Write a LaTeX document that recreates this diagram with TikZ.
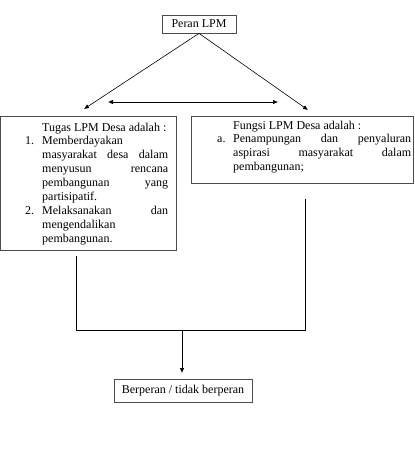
\documentclass[tikz,border=0pt]{standalone}
\usepackage{fontspec}
\setmainfont{Liberation Serif}
\usetikzlibrary{arrows.meta}
\tikzset{
  box/.style={draw=black!70, line width=0.7pt, inner sep=0pt},
  txt/.style={inner sep=0pt, anchor=base west, font=\fontsize{12}{13.9}\selectfont},
  conn/.style={draw=black, line width=0.6pt},
  arr/.style={conn, -{Latex[length=5pt,width=4.5pt]}},
}
\newcommand{\jline}[2]{\hbox to #1{#2}}
\begin{document}
\begin{tikzpicture}[x=1pt,y=-1pt]
\useasboundingbox (0,0) rectangle (415,451);
% boxes
\node[box, minimum width=74pt, minimum height=18pt, font=\fontsize{12}{14}\selectfont] (peran) at (199,24) {Peran LPM};
\draw[box] (0.5,116) rectangle (176,250);
\coordinate (tugasS) at (76,256);
\draw[box] (191,116) rectangle (413,183);
\coordinate (fungsiS) at (305,199);
\node[box, minimum width=138pt, minimum height=23pt, font=\fontsize{12}{14}\selectfont] (hasil) at (183,390.5) {Berperan / tidak berperan};
% text left
\node[txt] (tugas) at (25,131) {\begin{minipage}[t]{145pt}\setlength\baselineskip{13.9pt}\setlength\parskip{0pt}%
\hspace*{17pt}Tugas LPM Desa adalah :\par
\makebox[17pt][l]{1.}\jline{126pt}{Memberdayakan\hfil}\par
\hspace*{17pt}\jline{126pt}{masyarakat\hfil desa\hfil dalam}\par
\hspace*{17pt}\jline{126pt}{menyusun\hfil rencana}\par
\hspace*{17pt}\jline{126pt}{pembangunan\hfil yang}\par
\hspace*{17pt}\jline{126pt}{partisipatif.\hfil}\par
\makebox[17pt][l]{2.}\jline{126pt}{Melaksanakan\hfil dan}\par
\hspace*{17pt}\jline{126pt}{mengendalikan\hfil}\par
\hspace*{17pt}\jline{126pt}{pembangunan.\hfil}\par
\end{minipage}};
% text right
\node[txt] (fungsi) at (217,129) {\begin{minipage}[t]{196pt}\setlength\baselineskip{13.9pt}\setlength\parskip{0pt}%
\hspace*{16pt}Fungsi LPM Desa adalah :\par
\makebox[16pt][l]{a.}\jline{178pt}{Penampungan\hfil dan\hfil penyaluran}\par
\hspace*{16pt}\jline{178pt}{aspirasi\hfil masyarakat\hfil dalam}\par
\hspace*{16pt}\jline{178pt}{pembangunan;\hfil}\par
\end{minipage}};
% connectors
\coordinate (la) at (84,109);
\coordinate (ra) at (308,110);
\coordinate (dl) at (108,102);
\coordinate (dr) at (278,102);
\coordinate (jl) at (76,330);
\coordinate (jr) at (305,330);
\coordinate (jm) at (182,330);
\coordinate (hm) at (182,373);
\draw[arr] (peran.south) -- (la);
\draw[arr] (peran.south) -- (ra);
\draw[conn, {Latex[length=5pt,width=4.5pt]}-{Latex[length=5pt,width=4.5pt]}] (dl) -- (dr);
\draw[conn] (tugasS) -- (jl) -- (jr) -- (fungsiS);
\draw[arr] (jm) -- (hm);
\end{tikzpicture}
\end{document}
